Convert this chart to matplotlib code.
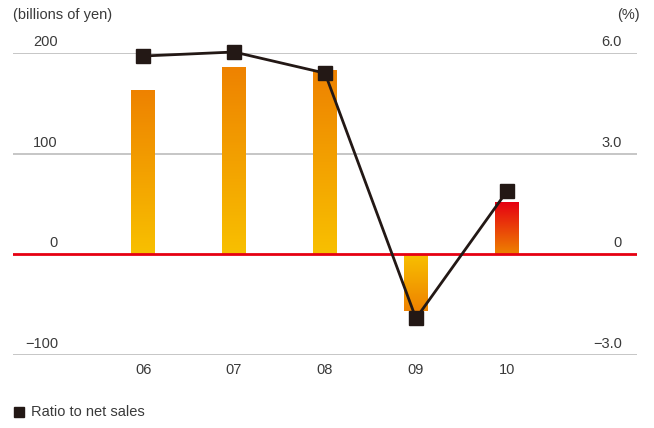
import matplotlib.pyplot as plt
import numpy as np
from matplotlib.colors import LinearSegmentedColormap
from matplotlib.lines import Line2D
from matplotlib.transforms import blended_transform_factory

plt.rcParams['font.family'] = ['Liberation Sans', 'DejaVu Sans']

years = ['06', '07', '08', '09', '10']
income = [162, 185, 182, -56, 51]          # billions of yen
ratio = [5.91, 6.03, 5.40, -1.91, 1.88]    # % of net sales

# gradient colours per bar (bottom -> top)
orange = '#ee8200'
yellow = '#f8c000'
red = '#e60012'
bar_grads = [(yellow, orange), (yellow, orange), (yellow, orange),
             (orange, yellow), (orange, red)]

fig = plt.figure(figsize=(6.54, 4.28), dpi=100)
W, H = 654, 428
ax = fig.add_axes([13 / W, (H - 355) / H, (637 - 13) / W, (355 - 53) / H])
ax2 = ax.twinx()

x = np.arange(len(years))
width = 0.26

# gridlines
for v in [200, 100, -100]:
    ax.axhline(v, color='#bcbcbc', lw=1.2, zorder=1)

# bars with vertical gradient
grad = np.linspace(0, 1, 256).reshape(-1, 1)
for xi, v, (c0, c1) in zip(x, income, bar_grads):
    cmap = LinearSegmentedColormap.from_list('g', [c0, c1])
    lo, hi = min(0, v), max(0, v)
    ax.imshow(grad, cmap=cmap, aspect='auto', origin='lower',
              extent=[xi - width / 2, xi + width / 2, lo, hi], zorder=2)
ax.set_xlim(-1.43, 5.43)
ax.set_ylim(-100, 200)
ax2.set_ylim(-3, 6)

ax.axhline(0, color='#e60012', lw=2.0, zorder=3)

# ratio line
ax2.plot(x, ratio, color='#231815', lw=2, marker='s', markersize=9.5,
         markerfacecolor='#231815', markeredgecolor='#231815', zorder=5,
         clip_on=False)
ax2.set_zorder(ax.get_zorder() + 1)
ax2.patch.set_visible(False)

for a in (ax, ax2):
    for s in a.spines.values():
        s.set_visible(False)
    a.set_yticks([])
ax.set_xticks(x)
ax.set_xticklabels(years, fontsize=10.5, color='#3a3a3a')
ax.tick_params(axis='x', length=0, pad=6)

# tick labels sitting above the gridlines
tr_l = blended_transform_factory(fig.transFigure, ax.transData)
for v, s in zip([200, 100, 0, -100], ['200', '100', '0', '\u2212100']):
    ax.text(58 / W, v + 4, s, transform=tr_l, ha='right', va='bottom',
            fontsize=10.5, color='#3a3a3a')
tr_r = blended_transform_factory(fig.transFigure, ax2.transData)
for v, s in zip([6, 3, 0, -3], ['6.0', '3.0', '0', '\u22123.0']):
    ax2.text(622 / W, v + 0.12, s, transform=tr_r, ha='right', va='bottom',
             fontsize=10.5, color='#3a3a3a')

fig.text(13 / W, 1 - 15 / H, '(billions of yen)', ha='left', va='center',
         fontsize=10.5, color='#3a3a3a')
fig.text(640 / W, 1 - 15 / H, '(%)', ha='right', va='center',
         fontsize=10.5, color='#3a3a3a')

# legend
fig.add_artist(Line2D([19 / W], [1 - 412 / H], marker='s', markersize=7,
                      color='#231815', linestyle='none',
                      transform=fig.transFigure))
fig.text(31 / W, 1 - 412 / H, 'Ratio to net sales', ha='left', va='center',
         fontsize=10.5, color='#3a3a3a')

fig.savefig('out.png', dpi=100)
